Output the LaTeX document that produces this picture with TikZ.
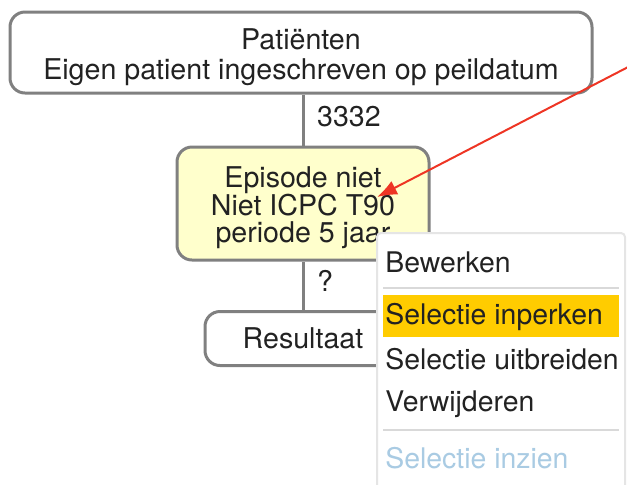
\documentclass[tikz,border=0pt]{standalone}
\usepackage{fontspec}
\setmainfont{TeX Gyre Heros}
\usetikzlibrary{arrows.meta}
\usetikzlibrary{positioning}
\definecolor{boxline}{HTML}{808080}
\definecolor{boxfill}{HTML}{FFFFCC}
\definecolor{menuhl}{HTML}{FFCC00}
\definecolor{menugrey}{HTML}{A9CBE3}
\definecolor{txt}{HTML}{222222}
\definecolor{pijl}{HTML}{EE3524}

\begin{document}
\begin{tikzpicture}[x=0.5pt,y=-0.5pt,
	blok/.style={draw=boxline, line width=1.5pt, rounded corners=7.5pt, align=center, text=txt, inner sep=0pt},
	item/.style={anchor=west, text=txt, inner sep=0pt, font=\fontsize{14.2}{15}\selectfont},
	lijn/.style={draw=boxline, line width=1.5pt}]
	\useasboundingbox (0,0) rectangle (627,484);
	\clip (0,0) rectangle (627,484);
	
	% boxes
	\node[blok, minimum width=291pt, minimum height=40.5pt, font=\fontsize{14.3}{15}\selectfont] (patienten) at (301,52.5) {\rule{0pt}{15pt}Patiënten\\Eigen patient ingeschreven op peildatum};
	\node[blok, fill=boxfill, minimum width=126pt, minimum height=56.5pt, font=\fontsize{14.3}{13.8}\selectfont] (episode) at (303,203.5) {\rule{0pt}{15pt}Episode niet\\Niet ICPC T90\\periode 5 jaar};
	\node[blok, fill=white, minimum width=98pt, minimum height=27pt, font=\fontsize{14.3}{15}\selectfont] (resultaat) at (303,338.5) {Resultaat};
	
	% lines
	\draw[lijn] (episode.north) -- (episode.north |- patienten.south) node[midway, right=3pt, yshift=1.5pt, text=txt, font=\fontsize{14.3}{15}\selectfont] {3332};
	\draw[lijn] (resultaat.north) -- (resultaat.north |- episode.south) node[midway, right=3pt, yshift=2.5pt, text=txt, font=\fontsize{14.3}{15}\selectfont] {?};
	
	% menu
	\draw[draw=black!10, line width=1pt, fill=white, rounded corners=2pt] (377,233) rectangle (625,500);
	\node[item] (bewerken) at (385,262) {Bewerken};
	\draw[black!15, line width=1pt] (383,288) -- (619,288);
	\fill[menuhl] (383,295) rectangle (619,337);
	\node[item] (inperken) at (385,317) {Selectie inperken};
	\node[item] (uitbreiden) at (385,359) {Selectie uitbreiden};
	\node[item] (verwijderen) at (385,404) {Verwijderen};
	\draw[black!15, line width=1pt] (383,430) -- (619,430);
	\node[item, text=menugrey] (inzien) at (385,458) {Selectie inzien};
	
	% red arrow
	\coordinate (start) at (632,65);
	\coordinate (doel) at (377,197);
	\draw[pijl, line width=1pt, -{Latex[length=10pt,width=7.5pt]}] (start) -- (doel);
\end{tikzpicture}
\end{document}
